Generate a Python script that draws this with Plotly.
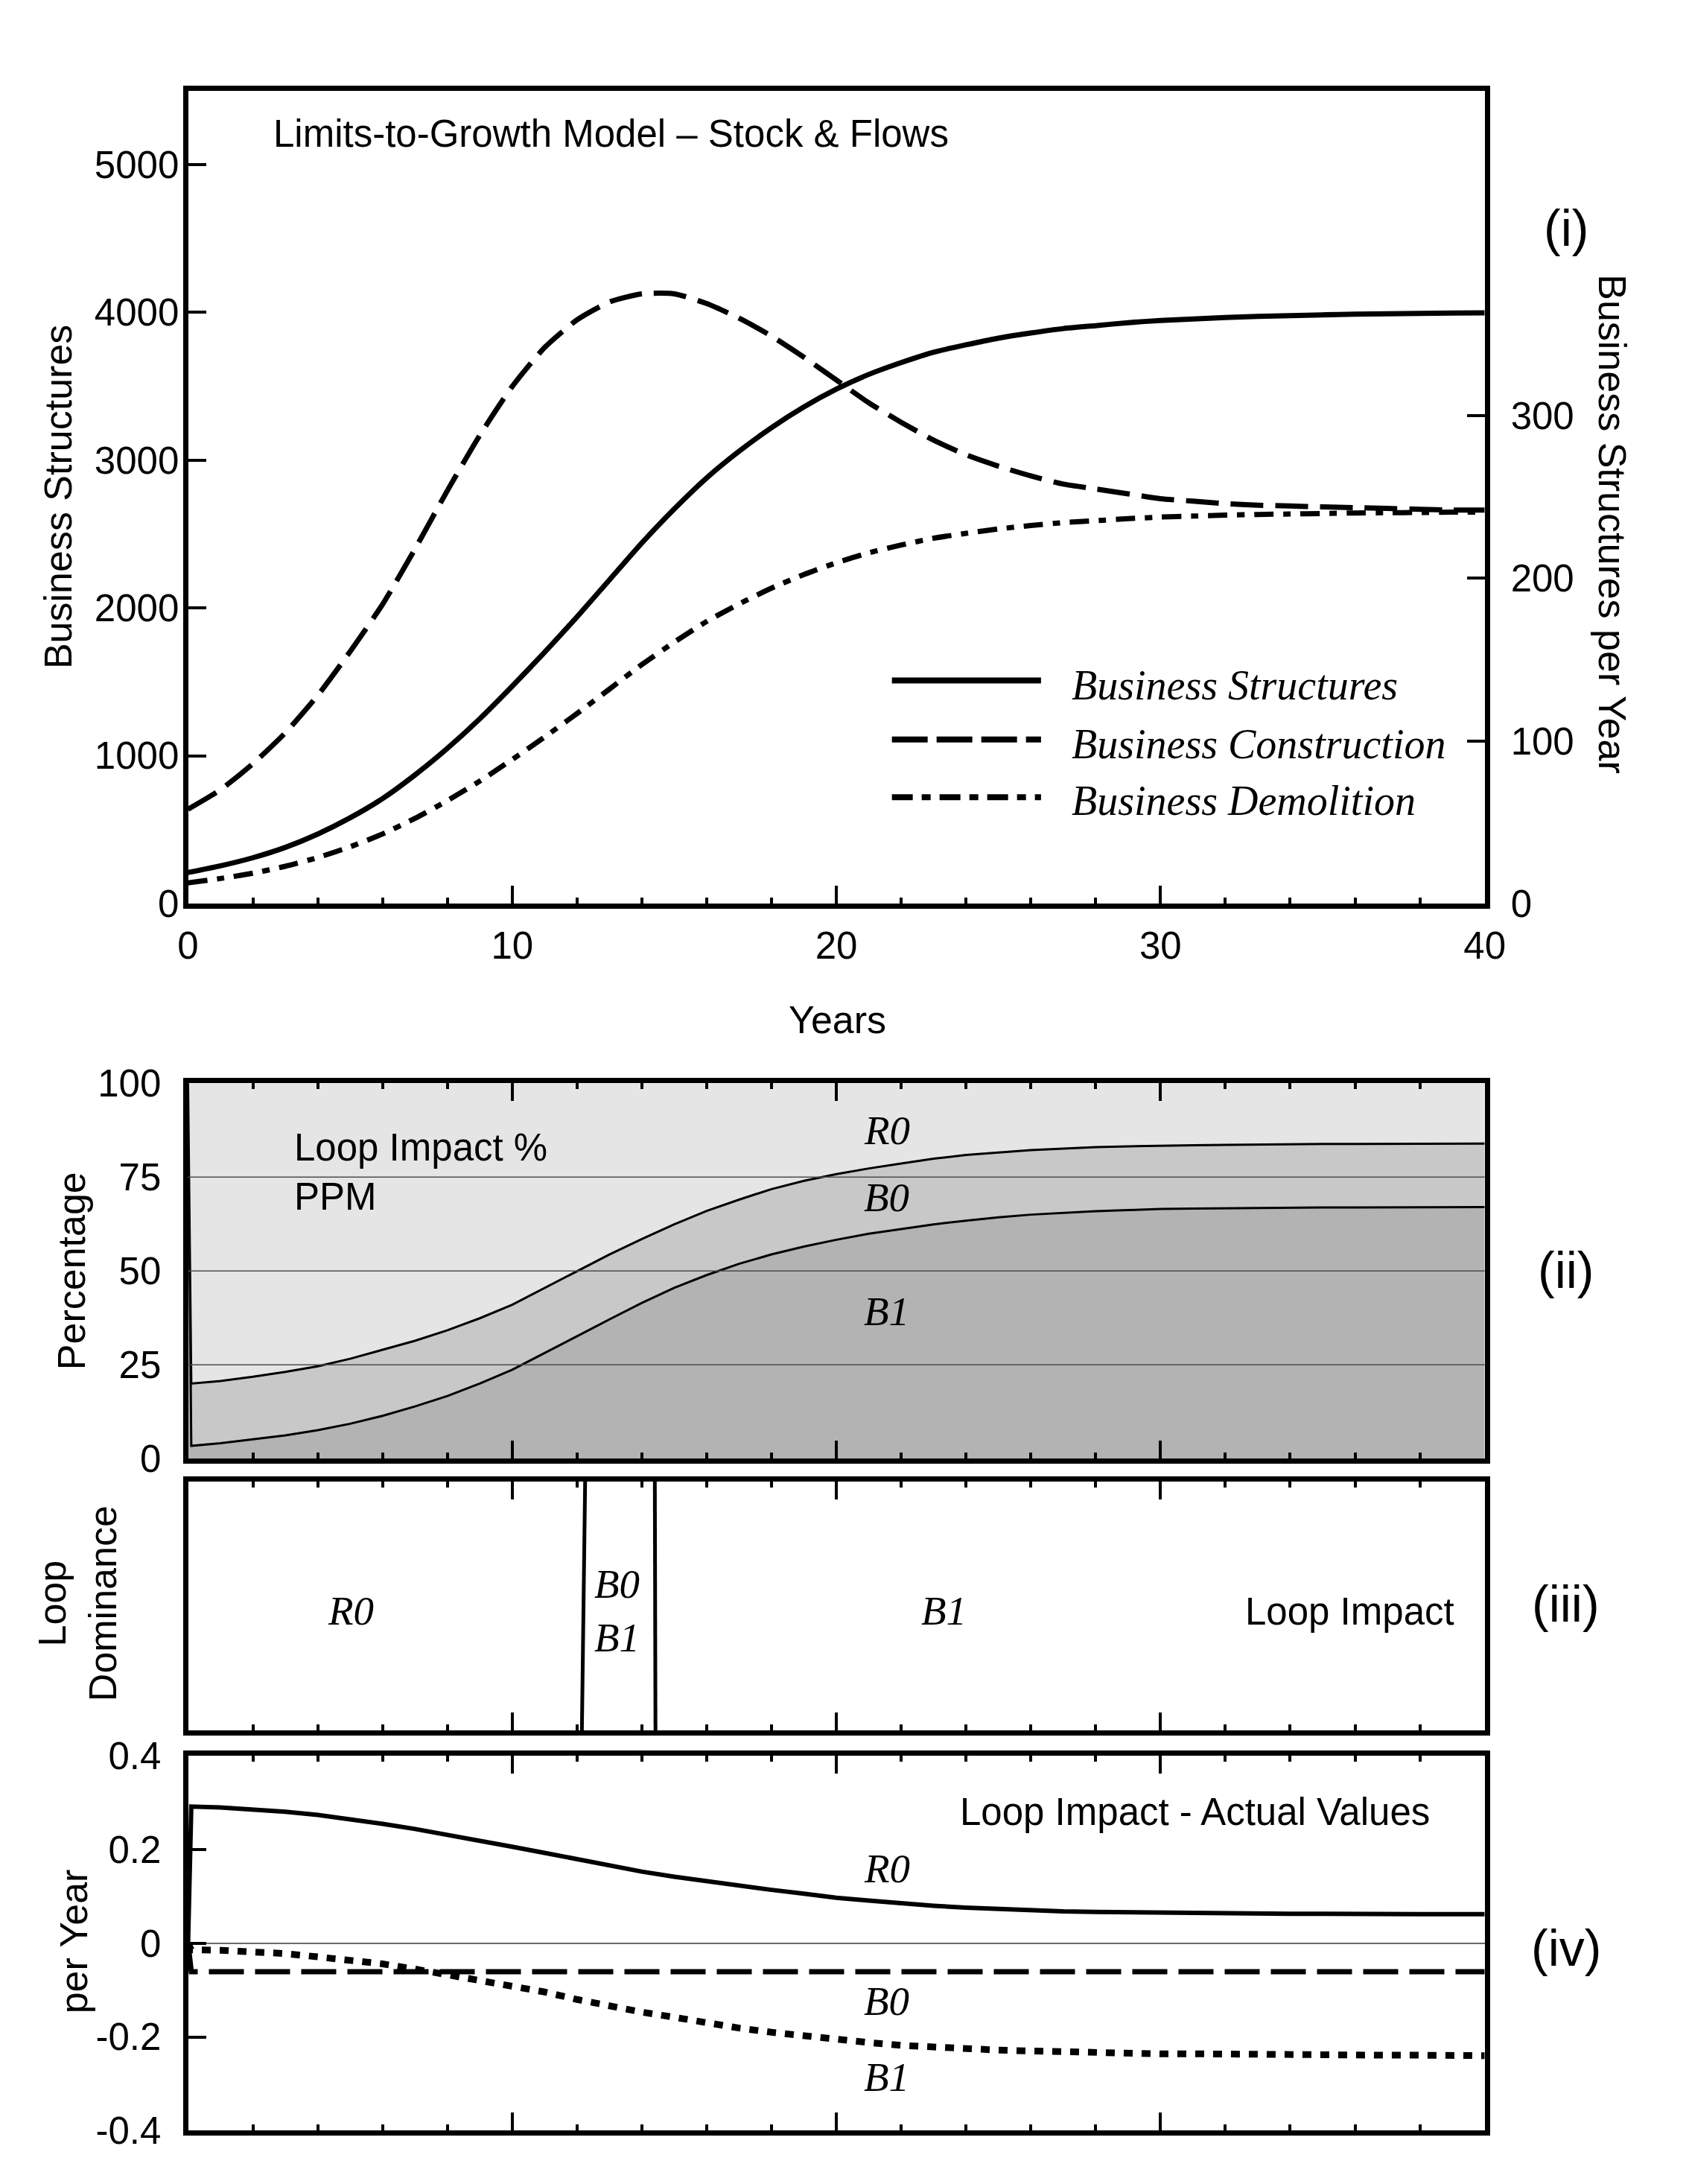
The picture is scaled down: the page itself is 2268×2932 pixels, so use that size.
import plotly.graph_objects as go

W, H = 2268, 2932

# ---------------- data ----------------
YEARS = list(range(0, 41))
STRUCTURES = [210, 255, 310, 380, 470, 580, 710, 870, 1050, 1250, 1470, 1700, 1940, 2190,
              2440, 2670, 2880, 3060, 3220, 3360, 3480, 3580, 3660, 3730, 3780, 3825, 3860,
              3890, 3910, 3930, 3945, 3955, 3965, 3972, 3978, 3983, 3987, 3990, 3993, 3995, 3997]
CONSTRUCTION = [58, 70, 86, 105, 128, 155, 184, 218, 254, 288, 318, 342, 359, 370, 375, 375,
                369, 360, 349, 336, 322, 308, 296, 285, 276, 269, 263, 258, 255, 252, 249,
                247.5, 246, 245, 244.5, 244, 243.5, 243, 242.5, 242, 242]
DEMOLITION = [12.7, 15.4, 18.7, 22.9, 28.3, 34.9, 42.8, 52.4, 63.3, 75.3, 88.6, 102.4, 116.9,
              131.9, 147.0, 160.8, 173.5, 184.3, 194.0, 202.4, 209.6, 215.7, 220.5, 224.7,
              227.7, 230.4, 232.5, 234.3, 235.5, 236.7, 237.7, 238.3, 238.9, 239.3, 239.6,
              239.9, 240.2, 240.4, 240.5, 240.7, 240.8]

LOOP_T = [0, 0.1] + list(range(1, 41))
PCT_B0_B1 = [100, 20.0, 20.7, 21.8, 23.1, 24.6, 26.6, 29.0, 31.4, 34.2, 37.4, 41.0, 45.5, 50.0,
             54.4, 58.5, 62.4, 66.0, 69.0, 71.8, 74.0, 75.8, 77.3, 78.6, 79.9, 80.9, 81.6, 82.2,
             82.6, 83.0, 83.2, 83.4, 83.5, 83.6, 83.7, 83.7, 83.8, 83.8, 83.8, 83.9, 83.9, 83.9]
PCT_B1 = [100, 3.4, 4.1, 5.1, 6.2, 7.6, 9.3, 11.4, 13.9, 16.7, 20.0, 23.7, 28.1, 32.6, 37.1,
          41.5, 45.5, 48.9, 51.9, 54.4, 56.5, 58.3, 59.9, 61.2, 62.4, 63.4, 64.3, 65.0, 65.5,
          65.9, 66.2, 66.5, 66.6, 66.7, 66.8, 66.8, 66.9, 66.9, 66.9, 67.0, 67.0, 67.0]
PCT_TOP = [100] * len(LOOP_T)

IMPACT_R0 = [0, 0.292, 0.290, 0.286, 0.281, 0.274, 0.265, 0.255, 0.244, 0.232, 0.219, 0.206,
             0.193, 0.179, 0.166, 0.153, 0.142, 0.132, 0.123, 0.114, 0.106, 0.097, 0.091, 0.085,
             0.080, 0.076, 0.073, 0.070, 0.068, 0.067, 0.066, 0.065, 0.064, 0.064, 0.063,
             0.063, 0.063, 0.062, 0.062, 0.062, 0.062, 0.062]
IMPACT_B0 = [0] + [-0.0606] * 41
IMPACT_B1 = [0, -0.014, -0.015, -0.017, -0.022, -0.029, -0.036, -0.044, -0.055, -0.067, -0.078,
             -0.089, -0.104, -0.120, -0.134, -0.147, -0.158, -0.170, -0.181, -0.190, -0.198,
             -0.205, -0.212, -0.218, -0.222, -0.226, -0.228, -0.230, -0.232, -0.233, -0.235,
             -0.236, -0.236, -0.237, -0.237, -0.238, -0.238, -0.239, -0.239, -0.239, -0.240,
             -0.240]

DOMINANCE_SWITCH_1 = [12.15, 12.25]
DOMINANCE_SWITCH_2 = [14.42, 14.40]
DOMINANCE_Y = [0, 1]

LEFT_TICKS = [0, 1000, 2000, 3000, 4000, 5000]
RIGHT_TICKS = [0, 100, 200, 300]
PCT_TICKS = [0, 25, 50, 75, 100]
IMPACT_TICKS = [-0.4, -0.2, 0, 0.2, 0.4]
IMPACT_TICKTEXT = ['-0.4', '-0.2', '0', '0.2', '0.4']

# ---------------- helpers ----------------
def px(x):
    return x / W


def py(y):
    return 1 - y / H


SANS = 'Liberation Sans, Arial, sans-serif'
SERIF = 'Liberation Serif, Times New Roman, serif'
BLACK = 'black'

fig = go.Figure()

# Panel (i)
fig.add_trace(go.Scatter(x=YEARS, y=STRUCTURES, mode='lines', xaxis='x', yaxis='y',
                         line=dict(color=BLACK, width=7, shape='spline', smoothing=0.6)))
fig.add_trace(go.Scatter(x=YEARS, y=CONSTRUCTION, mode='lines', xaxis='x', yaxis='y2',
                         line=dict(color=BLACK, width=7, dash='44px,16px', shape='spline', smoothing=0.6)))
fig.add_trace(go.Scatter(x=YEARS, y=DEMOLITION, mode='lines', xaxis='x', yaxis='y2',
                         line=dict(color=BLACK, width=7, dash='26px,13px,10px,13px', shape='spline', smoothing=0.6)))

# Panel (ii)
fig.add_trace(go.Scatter(x=LOOP_T, y=PCT_B1, mode='lines', xaxis='x2', yaxis='y3',
                         fill='tozeroy', fillcolor='#b3b3b3', line=dict(color=BLACK, width=3)))
fig.add_trace(go.Scatter(x=LOOP_T, y=PCT_B0_B1, mode='lines', xaxis='x2', yaxis='y3',
                         fill='tonexty', fillcolor='#c8c8c8', line=dict(color=BLACK, width=3)))
fig.add_trace(go.Scatter(x=LOOP_T, y=PCT_TOP, mode='lines', xaxis='x2', yaxis='y3',
                         fill='tonexty', fillcolor='#e5e5e5', line=dict(color='rgba(0,0,0,0)', width=0)))

# Panel (iii)
for sx in (DOMINANCE_SWITCH_1, DOMINANCE_SWITCH_2):
    fig.add_trace(go.Scatter(x=sx, y=DOMINANCE_Y, mode='lines', xaxis='x3', yaxis='y4',
                             line=dict(color=BLACK, width=5)))

# Panel (iv)
fig.add_trace(go.Scatter(x=LOOP_T, y=IMPACT_R0, mode='lines', xaxis='x4', yaxis='y5',
                         line=dict(color=BLACK, width=6)))
fig.add_trace(go.Scatter(x=LOOP_T, y=IMPACT_B0, mode='lines', xaxis='x4', yaxis='y5',
                         line=dict(color=BLACK, width=7, dash='47px,15px')))
fig.add_trace(go.Scatter(x=LOOP_T, y=IMPACT_B1, mode='lines', xaxis='x4', yaxis='y5',
                         line=dict(color=BLACK, width=9, dash='12px,12px')))

# ---------------- axes ----------------
XDOM = [px(243), px(2017)]
D1 = [py(1208.5), py(95.5)]
D2 = [py(1968.5), py(1454.5)]
D3 = [py(2340.5), py(1999.5)]
D4 = [py(2888.5), py(2375.5)]

TICKFONT = dict(family=SANS, size=51, color=BLACK)
base = dict(showline=True, linewidth=7, linecolor=BLACK, showgrid=False, zeroline=False,
            ticks='inside', tickcolor=BLACK, tickwidth=4, ticklen=24, tickfont=TICKFONT)


def xax(anchor, mirror, labels):
    d = dict(base)
    d.update(domain=XDOM, range=[0, 40], tick0=0, dtick=10, anchor=anchor, mirror=mirror,
             showticklabels=labels,
             minor=dict(ticks='inside', tick0=0, dtick=2, ticklen=8, tickwidth=4,
                        tickcolor=BLACK, showgrid=False))
    return d


ya = dict(base)
ya.update(domain=D1, range=[0, 5500], tickvals=LEFT_TICKS, anchor='x', mirror=True,
          ticklabelstandoff=-5)
ya2 = dict(base)
ya2.update(range=[0, 500], tickvals=RIGHT_TICKS, overlaying='y', side='right', anchor='x',
           showline=False, ticklabelstandoff=34)
ya3 = dict(base)
ya3.update(domain=D2, range=[0, 100], tickvals=PCT_TICKS, ticks='', anchor='x2', mirror=True,
           ticklabelstandoff=19)
ya4 = dict(base)
ya4.update(domain=D3, range=[0, 1], ticks='', showticklabels=False, anchor='x3', mirror=True)
ya5 = dict(base)
ya5.update(domain=D4, range=[-0.4, 0.4], tickvals=IMPACT_TICKS, ticktext=IMPACT_TICKTEXT,
           anchor='x4', mirror=True, zeroline=True, zerolinecolor='#6a6a6a', zerolinewidth=2,
           ticklabelstandoff=19)

xa1 = xax('y', True, True)
xa1['ticklabelstandoff'] = 6

fig.update_layout(
    width=W, height=H, margin=dict(l=0, r=0, t=0, b=0),
    paper_bgcolor='white', plot_bgcolor='white', showlegend=False,
    font=dict(family=SANS, color=BLACK), hovermode=False,
    xaxis=xa1, yaxis=ya, yaxis2=ya2,
    xaxis2=xax('y3', 'ticks', False), yaxis3=ya3,
    xaxis3=xax('y4', 'ticks', False), yaxis4=ya4,
    xaxis4=xax('y5', 'ticks', False), yaxis5=ya5,
)

# grid lines drawn above the fills in panel (ii)
for g in (25, 50, 75):
    fig.add_shape(type='line', xref='x2 domain', yref='y3', x0=0, x1=1, y0=g, y1=g,
                  layer='above', line=dict(color='#4d4d4d', width=1.5))

# legend samples for panel (i)
LEG_X0, LEG_X1 = px(1206), px(1410)
for yy, dash in ((903, 'solid'), (984, '48px,12px'), (1063, '28px,12px,12px,12px')):
    fig.add_shape(type='line', xref='paper', yref='paper', x0=LEG_X0, x1=LEG_X1,
                  y0=py(yy), y1=py(yy), line=dict(color=BLACK, width=8, dash=dash))


def note(text, x, y, size=51, family=SANS, xanchor='center', yanchor='middle', angle=0,
         align='center'):
    fig.add_annotation(text=text, x=px(x), y=py(y), xref='paper', yref='paper',
                       showarrow=False, xanchor=xanchor, yanchor=yanchor, textangle=angle,
                       align=align, font=dict(family=family, size=size, color=BLACK))


for label, yy in (('Business Structures', 910), ('Business Construction', 990),
                  ('Business Demolition', 1068)):
    note('<i>' + label + '</i>', 1450, yy, size=56, family=SERIF, xanchor='left')

note('Limits-to-Growth Model \u2013 Stock &amp; Flows', 358, 154, size=51, xanchor='left')
note('Years', 1131, 1368, size=52)
note('Business Structures', 66, 652, size=52, angle=-90)
note('Business Structures per Year', 2192, 689, size=52, angle=90)
note('(i)', 2128, 284, size=68)
note('(ii)', 2128, 1710, size=68)
note('(iii)', 2128, 2167, size=68)
note('(iv)', 2128, 2638, size=68)

note('Percentage', 83, 1711, size=52, angle=-90)
note('Loop<br>Dominance', 92, 2167, size=52, angle=-90)
note('per Year', 86, 2629, size=52, angle=-90)

note('Loop Impact %<br>PPM', 386, 1576, size=51, xanchor='left', align='left')
note('<i>R0</i>', 1199, 1519, size=55, family=SERIF)
note('<i>B0</i>', 1199, 1611, size=55, family=SERIF)
note('<i>B1</i>', 1199, 1767, size=55, family=SERIF)

note('<i>R0</i>', 466, 2177, size=55, family=SERIF)
note('<i>B0</i><br><i>B1</i>', 830, 2177, size=55, family=SERIF)
note('<i>B1</i>', 1277, 2177, size=55, family=SERIF)
note('Loop Impact', 1978, 2178, size=51, xanchor='right')

note('Loop Impact - Actual Values', 1620, 2452, size=51)
note('<i>R0</i>', 1199, 2530, size=55, family=SERIF)
note('<i>B0</i>', 1199, 2711, size=55, family=SERIF)
note('<i>B1</i>', 1199, 2815, size=55, family=SERIF)

fig.write_html('out.html', config={'displayModeBar': False, 'staticPlot': True},
               post_script="document.body.style.margin='0';")
